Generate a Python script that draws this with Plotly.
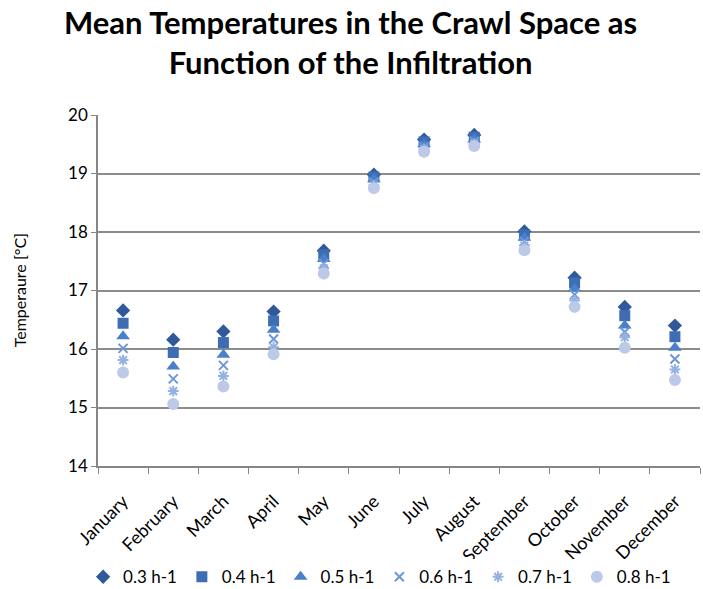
import plotly.graph_objects as go

months = ["January", "February", "March", "April", "May", "June", "July",
          "August", "September", "October", "November", "December"]

ach_03 = [16.66, 16.16, 16.30, 16.64, 17.68, 18.98, 19.58, 19.66, 18.01, 17.22, 16.72, 16.40]
ach_04 = [16.44, 15.94, 16.11, 16.48, 17.61, 18.94, 19.54, 19.62, 17.95, 17.13, 16.57, 16.21]
ach_05 = [16.22, 15.70, 15.90, 16.33, 17.54, 18.90, 19.50, 19.58, 17.90, 17.03, 16.40, 16.02]
ach_06 = [16.01, 15.49, 15.72, 16.17, 17.46, 18.85, 19.46, 19.55, 17.84, 16.93, 16.29, 15.83]
ach_07 = [15.81, 15.28, 15.54, 16.03, 17.38, 18.80, 19.42, 19.51, 17.77, 16.83, 16.20, 15.65]
ach_08 = [15.60, 15.06, 15.36, 15.91, 17.29, 18.75, 19.37, 19.47, 17.69, 16.72, 16.02, 15.47]

series = [
    ("0.3 h-1", ach_03, "diamond", "#30599B", 11),
    ("0.4 h-1", ach_04, "square", "#3E6DB4", 11),
    ("0.5 h-1", ach_05, "triangle-up", "#4A80CA", 12),
    ("0.6 h-1", ach_06, "x-thin-open", "#6D97DA", 9),
    ("0.7 h-1", ach_07, "asterisk-open", "#94B1E3", 9),
    ("0.8 h-1", ach_08, "circle", "#BCCAE8", 12),
]

fig = go.Figure()
for name, vals, sym, col, size in series:
    open_sym = sym.endswith("-open")
    fig.add_trace(go.Scatter(
        x=months, y=vals, mode="markers", name=name,
        marker=dict(symbol=sym, size=size, color=col,
                    line=dict(color=col, width=2 if open_sym else 0)),
    ))

font_family = "Lato, 'Open Sans', sans-serif"

# chart title and y-axis caption placed as paper annotations
fig.add_annotation(
    text="<b>Mean Temperatures in the Crawl Space as<br>Function of the Infiltration</b>",
    xref="paper", yref="paper", x=0.419, y=1.208,
    xanchor="center", yanchor="middle", showarrow=False,
    font=dict(size=31, family=font_family, color="#000000"),
)
fig.add_annotation(
    text="Temperaure [°C]",
    xref="paper", yref="paper", x=-0.13, y=0.5,
    xanchor="center", yanchor="middle", textangle=-90, showarrow=False,
    font=dict(size=16, family=font_family, color="#000000"),
)

fig.update_layout(
    width=703, height=589,
    margin=dict(l=98, r=3, t=115, b=123),
    paper_bgcolor="white", plot_bgcolor="white",
    font=dict(family=font_family, color="#000000"),
    showlegend=True,
    legend=dict(
        orientation="h", xref="container", yref="container",
        x=0.54, xanchor="center", y=0.02, yanchor="middle",
        font=dict(size=17, color="#000000"),
        itemwidth=30, tracegroupgap=0,
    ),
    xaxis=dict(
        type="category", categoryorder="array", categoryarray=months,
        tickangle=-45, tickfont=dict(size=18), automargin=False,
        ticklabelstandoff=16,
        showgrid=False, showline=True, linecolor="#868686", linewidth=1.5,
        ticks="outside", tickson="boundaries", ticklen=6, tickcolor="#868686",
        range=[-0.5, 11.5],
    ),
    yaxis=dict(
        range=[14, 20], dtick=1, tickfont=dict(size=17), automargin=False,
        showgrid=True, gridcolor="#8C8C8C", gridwidth=1.5,
        showline=True, linecolor="#868686", linewidth=1.5,
        ticks="outside", ticklen=5, tickcolor="#868686",
        zeroline=False,
    ),
)

fig.write_html("out.html")
